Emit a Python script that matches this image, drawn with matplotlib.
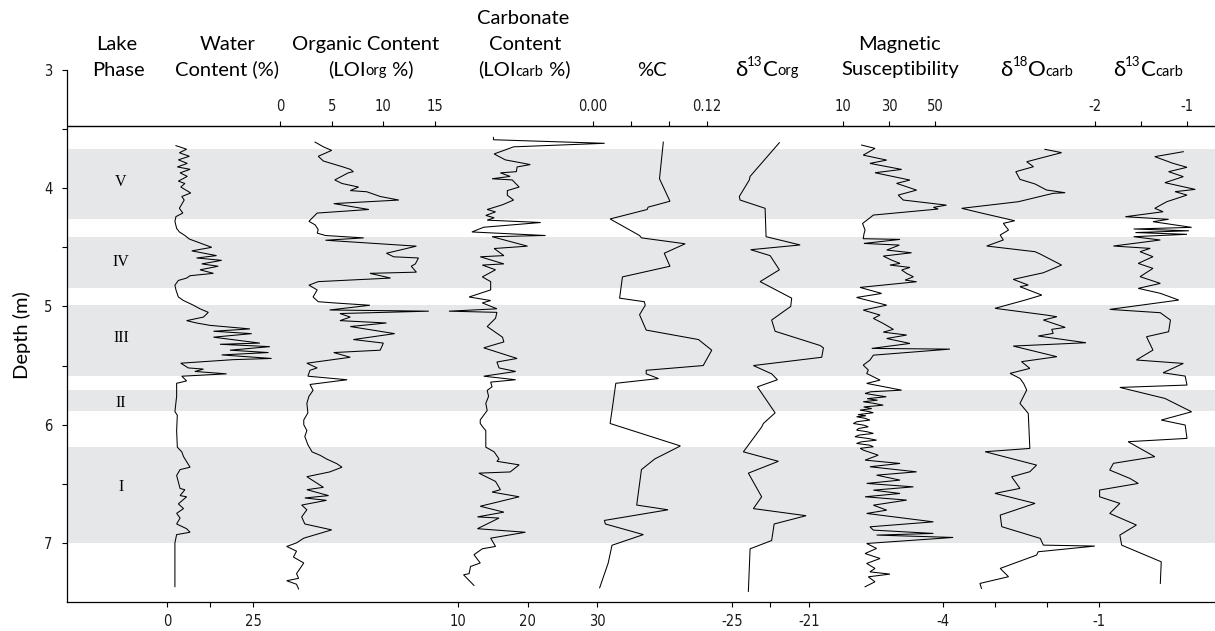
import matplotlib
matplotlib.use("Agg")
import matplotlib.pyplot as plt

# ---------------- data (depth m, value) ----------------
PHASES = ["V", "IV", "III", "II", "I"]
PHASE_TOP = [3.67, 4.415, 4.99, 5.71, 6.185]
PHASE_BOT = [4.26, 4.845, 5.585, 5.885, 7.005]
PHASE_LABEL_DEPTH = [3.95, 4.62, 5.27, 5.82, 6.53]

WATER = [(3.64,2.6),(3.67,5.7),(3.70,3.6),(3.73,6.5),(3.76,3.3),(3.79,5.9),(3.82,3.0),(3.84,6.7),
         (3.87,3.8),(3.90,5.9),(3.94,3.3),(3.96,5.2),(3.99,4.0),(4.04,6.9),(4.07,4.3),(4.10,5.0),
         (4.17,3.6),(4.21,4.6),(4.24,2.6),(4.28,2.3),(4.34,2.8),(4.37,3.6),(4.40,5.2),(4.43,6.5),
         (4.50,13.0),(4.53,7.2),(4.57,14.4),(4.59,8.6),(4.61,15.9),(4.64,10.1),(4.66,14.9),(4.69,9.6),
         (4.72,13.5),(4.74,6.7),(4.76,5.7),(4.78,3.3),(4.82,2.3),(4.86,2.6),(4.92,3.3),(4.95,4.8),
         (4.99,7.7),(5.02,9.6),(5.05,12.0),(5.09,10.6),(5.12,5.7),(5.14,8.6),(5.16,12.5),(5.19,24.1),
         (5.21,13.5),(5.23,24.6),(5.26,13.5),(5.31,27.0),(5.32,15.4),(5.34,29.9),(5.37,18.3),(5.39,29.5),
         (5.41,15.9),(5.44,30.4),(5.45,19.3),(5.48,4.0),(5.52,6.2),(5.53,10.6),(5.55,8.1),(5.57,17.3),
         (5.59,4.3),(5.63,5.7),(5.65,2.8),(5.76,2.8),(5.89,2.3),(5.92,3.0),(6.05,2.8),(6.19,3.0),
         (6.23,4.3),(6.27,4.8),(6.36,6.7),(6.38,3.8),(6.43,2.8),(6.54,3.8),(6.55,5.2),(6.60,3.8),
         (6.61,5.7),(6.67,3.3),(6.71,4.8),(6.75,2.8),(6.79,3.8),(6.84,2.8),(6.88,5.7),(6.91,6.7),
         (6.93,2.8),(7.00,2.3),(7.17,2.3),(7.37,2.3)]

ORGANIC = [(3.61,3.4),(3.65,4.2),(3.68,5.0),(3.73,3.7),(3.77,4.2),(3.82,6.1),(3.84,6.8),(3.86,7.1),
           (3.87,6.6),(3.93,5.3),(3.96,6.0),(3.99,7.6),(4.02,6.8),(4.03,8.4),(4.07,9.7),(4.10,11.5),
           (4.13,5.2),(4.18,8.6),(4.21,3.6),(4.28,2.8),(4.31,3.4),(4.35,3.7),(4.38,3.6),(4.40,4.4),
           (4.42,8.1),(4.44,4.4),(4.49,13.2),(4.55,10.3),(4.58,11.0),(4.59,13.4),(4.64,13.1),(4.66,12.7),
           (4.71,13.2),(4.72,8.7),(4.76,10.7),(4.79,3.7),(4.82,2.8),(4.86,3.6),(4.92,3.2),(4.96,3.7),
           (4.97,5.2),(4.99,8.7),(5.03,4.8),(5.04,14.4),(5.06,5.8),(5.09,6.8),(5.12,5.8),(5.14,10.3),
           (5.17,6.8),(5.23,11.1),(5.28,7.1),(5.31,10.0),(5.37,9.7),(5.39,5.2),(5.43,6.8),(5.48,2.6),
           (5.52,3.6),(5.54,2.9),(5.59,2.7),(5.62,6.5),(5.66,2.9),(5.71,3.2),(5.76,2.8),(5.82,2.6),
           (5.90,2.7),(5.96,2.3),(6.00,2.3),(6.05,2.6),(6.10,2.4),(6.17,2.7),(6.23,3.1),(6.26,3.9),
           (6.29,4.5),(6.33,5.5),(6.36,6.0),(6.40,4.8),(6.44,2.6),(6.53,4.2),(6.55,2.6),(6.60,4.7),
           (6.62,2.4),(6.64,4.5),(6.68,2.1),(6.72,2.6),(6.78,2.1),(6.84,2.4),(6.89,5.0),(6.96,2.3),
           (7.00,1.6),(7.03,0.65),(7.07,1.6),(7.12,1.3),(7.17,2.3),(7.26,1.6),(7.30,1.8),(7.32,0.65),
           (7.35,1.6),(7.39,1.8)]

CARBONATE = [(3.57,15.1),(3.59,15.1),(3.62,31.1),(3.65,18.0),(3.71,15.2),(3.76,16.8),(3.80,20.4),
             (3.82,18.5),(3.86,18.4),(3.87,16.1),(3.90,17.5),(3.92,14.9),(3.93,17.8),(3.99,18.8),
             (4.02,17.1),(4.06,17.1),(4.10,18.0),(4.14,16.4),(4.18,14.2),(4.20,15.4),(4.23,14.0),
             (4.25,15.2),(4.27,14.2),(4.29,21.9),(4.33,13.7),(4.37,12.0),(4.40,22.6),(4.41,14.9),
             (4.49,20.0),(4.51,15.2),(4.57,16.6),(4.58,13.2),(4.64,16.6),(4.65,13.5),(4.69,15.4),
             (4.75,13.5),(4.79,14.7),(4.86,14.7),(4.92,11.6),(4.95,14.7),(4.97,13.5),(5.02,15.6),
             (5.04,8.7),(5.05,15.6),(5.10,15.4),(5.17,14.2),(5.26,16.4),(5.30,16.6),(5.35,13.7),
             (5.44,18.5),(5.47,15.6),(5.52,15.9),(5.55,18.3),(5.59,13.7),(5.62,18.3),(5.64,14.7),
             (5.68,14.9),(5.71,14.2),(5.76,14.4),(5.82,14.0),(5.88,14.2),(5.96,13.2),(5.99,13.2),
             (6.03,13.7),(6.05,14.0),(6.19,14.0),(6.23,15.2),(6.29,15.9),(6.31,15.6),(6.34,18.8),
             (6.40,17.5),(6.41,13.0),(6.48,15.4),(6.55,16.1),(6.57,14.9),(6.61,18.8),(6.69,13.2),
             (6.74,16.6),(6.78,12.8),(6.79,15.9),(6.88,12.8),(6.91,19.7),(6.96,14.7),(7.03,15.4),
             (7.05,13.5),(7.10,12.3),(7.17,13.2),(7.20,11.8),(7.26,11.6),(7.27,10.8),(7.36,12.3)]

PCT_C = [(3.61,0.074),(3.92,0.070),(4.11,0.081),(4.16,0.058),(4.18,0.057),(4.26,0.018),(4.40,0.049),
         (4.42,0.051),(4.47,0.097),(4.55,0.075),(4.66,0.081),(4.75,0.031),(4.93,0.028),(4.96,0.054),
         (4.99,0.055),(5.07,0.049),(5.20,0.056),(5.28,0.111),(5.37,0.125),(5.50,0.116),(5.54,0.056),
         (5.57,0.056),(5.61,0.069),(5.65,0.024),(5.88,0.020),(5.99,0.018),(6.18,0.092),(6.29,0.065),
         (6.38,0.051),(6.68,0.046),(6.72,0.079),(6.81,0.012),(6.84,0.013),(6.93,0.053),(7.02,0.020),
         (7.17,0.016),(7.38,0.007)]

D13C_ORG = [(3.615,-22.54),(3.90,-24.06),(3.93,-24.10),(4.07,-24.62),(4.10,-24.58),(4.17,-23.28),
            (4.41,-23.23),(4.48,-21.46),(4.52,-24.03),(4.57,-23.02),(4.59,-22.94),(4.69,-22.54),
            (4.79,-23.54),(4.93,-21.90),(5.00,-21.95),(5.115,-22.94),(5.21,-22.76),(5.33,-20.43),
            (5.35,-20.25),(5.43,-20.34),(5.50,-23.89),(5.57,-22.94),(5.62,-22.64),(5.68,-23.68),
            (5.90,-22.76),(5.99,-23.37),(6.02,-23.46),(6.23,-24.41),(6.31,-22.59),(6.41,-24.15),
            (6.61,-23.46),(6.71,-23.89),(6.77,-21.15),(6.84,-22.81),(6.98,-22.94),(7.05,-24.06),
            (7.41,-24.15)]

MAG_SUS = [(3.635,18.1),(3.663,23.9),(3.72,18.8),(3.762,29.0),(3.79,21.7),(3.841,35.5),(3.869,23.9),
           (3.931,39.1),(3.959,33.3),(4.016,42.0),(4.058,34.0),(4.10,36.2),(4.143,55.0),(4.162,49.3),
           (4.176,51.4),(4.227,23.2),(4.255,21.4),(4.298,18.5),(4.354,19.6),(4.388,19.1),(4.427,18.8),
           (4.433,34.8),(4.467,19.1),(4.481,34.5),(4.523,29.0),(4.546,39.8),(4.574,27.5),(4.608,31.1),
           (4.636,34.8),(4.65,30.4),(4.67,39.1),(4.692,35.5),(4.721,37.7),(4.749,40.6),(4.777,37.0),
           (4.791,42.0),(4.839,17.4),(4.89,26.8),(4.924,15.9),(4.946,20.3),(4.989,29.0),(5.031,18.8),
           (5.073,26.1),(5.101,23.2),(5.144,27.5),(5.194,31.9),(5.217,27.5),(5.242,37.7),(5.271,29.0),
           (5.313,39.1),(5.355,22.5),(5.361,56.5),(5.412,23.2),(5.454,21.7),(5.496,18.8),(5.538,21.0),
           (5.567,20.3),(5.623,26.1),(5.651,20.3),(5.708,35.5),(5.722,22.0),(5.736,19.6),(5.75,24.0),
           (5.764,28.8),(5.78,20.5),(5.793,25.0),(5.806,18.8),(5.82,23.5),(5.835,27.5),(5.85,19.0),
           (5.864,22.5),(5.877,17.4),(5.888,21.0),(5.899,23.2),(5.915,16.5),(5.925,20.0),(5.933,15.9),
           (5.946,19.5),(5.961,21.7),(5.975,16.0),(5.99,14.5),(6.004,19.0),(6.018,21.0),(6.032,16.8),
           (6.046,15.9),(6.06,20.5),(6.074,23.2),(6.088,17.0),(6.102,15.2),(6.117,21.0),(6.131,24.6),
           (6.145,18.0),(6.159,15.9),(6.173,21.5),(6.187,23.2),(6.2,17.5),(6.215,18.8),
           (6.258,25.3),(6.30,19.6),(6.328,34.8),(6.356,21.7),(6.399,42.0),(6.427,24.6),(6.469,34.8),
           (6.497,20.3),(6.526,40.6),(6.554,23.2),(6.582,34.8),(6.61,19.6),(6.638,37.7),(6.681,23.2),
           (6.723,29.0),(6.751,20.3),(6.822,49.3),(6.864,21.7),(6.892,23.2),(6.92,49.3),(6.934,24.6),
           (6.954,57.9),(7.005,20.3),(7.047,24.6),(7.09,19.6),(7.132,26.1),(7.174,20.3),(7.216,23.9),
           (7.245,21.7),(7.264,30.4),(7.287,21.0),(7.329,23.9),(7.371,19.6)]

D18O_CARB = [(3.671,-2.04),(3.699,-1.72),(3.776,-2.39),(3.818,-2.26),(3.86,-2.60),(3.925,-2.52),
             (3.964,-2.23),(4.015,-2.01),(4.038,-1.65),(4.043,-1.88),(4.114,-2.55),(4.17,-3.64),
             (4.207,-3.29),(4.275,-2.62),(4.297,-2.84),(4.354,-2.74),(4.396,-2.90),(4.438,-2.84),
             (4.489,-3.16),(4.537,-2.23),(4.557,-2.13),(4.65,-1.72),(4.715,-2.07),(4.771,-2.65),
             (4.819,-2.36),(4.833,-2.52),(4.904,-2.10),(4.946,-2.42),(5.016,-3.00),(5.073,-2.01),
             (5.087,-1.81),(5.115,-2.07),(5.177,-1.65),(5.194,-1.91),(5.228,-1.88),(5.25,-2.17),
             (5.307,-1.25),(5.335,-2.65),(5.425,-1.81),(5.467,-2.49),(5.524,-2.33),(5.566,-2.71),
             (5.609,-2.52),(5.651,-2.45),(5.707,-2.39),(5.82,-2.52),(5.905,-2.36),(6.201,-2.33),
             (6.229,-3.19),(6.342,-2.20),(6.398,-2.33),(6.441,-2.68),(6.539,-2.52),(6.581,-3.00),
             (6.666,-2.23),(6.765,-2.90),(6.863,-2.87),(6.962,-2.13),(7.019,-2.07),(7.027,-1.08),
             (7.075,-2.17),(7.103,-2.20),(7.216,-2.90),(7.286,-2.74),(7.343,-3.29),(7.385,-3.26)]

D13C_CARB = [(3.691,-1.04),(3.733,-1.35),(3.790,-1.15),(3.823,-1.00),(3.86,-1.20),(3.902,-1.04),
             (3.953,-1.24),(4.010,-0.91),(4.029,-1.13),(4.058,-1.00),(4.114,-1.22),(4.17,-1.35),
             (4.199,-1.26),(4.241,-1.67),(4.263,-1.20),(4.283,-1.37),(4.331,-0.95),(4.345,-1.58),
             (4.36,-0.98),(4.375,-1.56),(4.39,-1.00),(4.41,-1.58),(4.438,-1.29),(4.489,-1.80),
             (4.509,-1.40),(4.537,-1.51),(4.579,-1.37),(4.636,-1.53),(4.678,-1.37),(4.748,-1.51),
             (4.805,-1.29),(4.847,-1.53),(4.889,-1.29),(4.946,-1.09),(5.025,-1.84),(5.053,-1.29),
             (5.115,-1.18),(5.214,-1.20),(5.256,-1.44),(5.369,-1.37),(5.453,-1.55),(5.482,-1.04),
             (5.561,-1.26),(5.589,-1.02),(5.665,-1.00),(5.685,-1.73),(5.778,-1.24),(5.891,-0.95),
             (5.961,-1.28),(6.003,-1.02),(6.116,-1.00),(6.144,-1.64),(6.271,-1.35),(6.327,-1.80),
             (6.384,-1.84),(6.455,-1.62),(6.497,-1.53),(6.553,-1.95),(6.610,-1.95),(6.666,-1.73),
             (6.751,-1.84),(6.849,-1.55),(6.934,-1.73),(7.019,-1.71),(7.160,-1.28),(7.343,-1.29)]

DEPTH_TICKS = [3, 4, 5, 6, 7]
DEPTH_MINOR = [3.5, 4.5, 5.5, 6.5]

# tick values / labels of each panel
WATER_TICKS, WATER_LABELS = [0, 12.5, 25], ["0", "", "25"]
ORG_TICKS, ORG_LABELS = [0, 5, 10, 15], ["0", "5", "10", "15"]
CARB_TICKS, CARB_LABELS = [10, 20, 30], ["10", "20", "30"]
PCTC_TICKS, PCTC_LABELS = [0.0, 0.04, 0.08, 0.12], ["0.00", "", "", "0.12"]
D13CORG_TICKS, D13CORG_LABELS = [-25, -23, -21], ["-25", "", "-21"]
MAG_TICKS, MAG_LABELS = [10, 30, 50], ["10", "30", "50"]
D18O_TICKS, D18O_LABELS = [-4, -3, -2, -1], ["-4", "", "", "-1"]
D13CC_TICKS, D13CC_LABELS = [-2, -1.5, -1], ["-2", "", "-1"]

# ---------------- layout ----------------
W, H = 1215, 631
AX_L, AX_R, AX_T, AX_B = 67, 1215, 70, 602
D_TOP, D_BOT = 3.0, 7.5
TOP_LINE = 3.475
BAND = "#e6e7e8"
LW = 0.75

HEAD_FONT = ["Lato", "DejaVu Sans"]
TICK_FONT = ["Liberation Sans Narrow", "DejaVu Sans"]
SERIF = ["Liberation Serif", "DejaVu Serif"]

fig = plt.figure(figsize=(W / 100, H / 100), dpi=100)


def fx(px):
    return px / W


def fy(py):
    return 1 - py / H


def style_ticklabels(labels):
    for t in labels:
        t.set_family(TICK_FONT)
        t.set_fontstretch("condensed")
        t.set_fontsize(10.5)
        t.set_color("#1a1a1a")


ax = fig.add_axes([fx(AX_L), fy(AX_B), (AX_R - AX_L) / W, (AX_B - AX_T) / H])
ax.set_xlim(0, 1)
ax.set_ylim(D_BOT, D_TOP)
for s in ("top", "right"):
    ax.spines[s].set_visible(False)
for s in ("left", "bottom"):
    ax.spines[s].set_linewidth(0.9)
ax.set_xticks([])
ax.set_yticks(DEPTH_TICKS)
ax.set_yticks(DEPTH_MINOR, minor=True)
ax.tick_params(axis="y", which="both", direction="out", length=3.5, width=0.8, pad=7)
style_ticklabels(ax.get_yticklabels())
ax.axhline(TOP_LINE, color="black", lw=1.0)
for top, bot, lab, ld in zip(PHASE_TOP, PHASE_BOT, PHASES, PHASE_LABEL_DEPTH):
    ax.axhspan(top, bot, color=BAND, lw=0, zorder=0)
    ax.text((121 - AX_L) / (AX_R - AX_L), ld, lab, ha="center", va="center",
            fontsize=11.5, family=SERIF)
fig.text(fx(22), fy(335), "Depth (m)", rotation=90, ha="center", va="center",
         fontsize=14.5, family=HEAD_FONT)

ptop = AX_T + (TOP_LINE - D_TOP) / (D_BOT - D_TOP) * (AX_B - AX_T)
rect = [fx(AX_L), fy(AX_B), (AX_R - AX_L) / W, (AX_B - ptop) / H]

# (series, anchor v0 at px0, v1 at px1, tick side, ticks, labels)
PANELS = [
    (WATER, (0, 167, 25, 253), "bottom", WATER_TICKS, WATER_LABELS),
    (ORGANIC, (0, 280, 15, 435), "top", ORG_TICKS, ORG_LABELS),
    (CARBONATE, (10, 458, 30, 597), "bottom", CARB_TICKS, CARB_LABELS),
    (PCT_C, (0.0, 593, 0.12, 707), "top", PCTC_TICKS, PCTC_LABELS),
    (D13C_ORG, (-25, 732, -21, 809), "bottom", D13CORG_TICKS, D13CORG_LABELS),
    (MAG_SUS, (10, 843, 50, 935), "top", MAG_TICKS, MAG_LABELS),
    (D18O_CARB, (-4, 943, -1, 1099), "bottom", D18O_TICKS, D18O_LABELS),
    (D13C_CARB, (-2, 1095, -1, 1187), "top", D13CC_TICKS, D13CC_LABELS),
]

for i, (series, (v0, p0, v1, p1), side, ticks, labels) in enumerate(PANELS):
    pax = fig.add_axes(rect, label=f"panel{i}")
    pax.patch.set_visible(False)
    for s in pax.spines.values():
        s.set_visible(False)
    k = (p1 - p0) / (v1 - v0)
    pax.set_xlim(v0 - (p0 - AX_L) / k, v0 + (AX_R - p0) / k)
    pax.set_ylim(D_BOT, TOP_LINE)
    pax.set_yticks([])
    depths = [d for d, _ in series]
    vals = [v for _, v in series]
    pax.plot(vals, depths, color="black", lw=LW, solid_joinstyle="miter")
    if side == "top":
        pax.xaxis.tick_top()
    else:
        pax.xaxis.tick_bottom()
    pax.set_xticks(ticks, labels)
    pax.tick_params(axis="x", direction="out", length=3.5, width=0.8, pad=5.5)
    style_ticklabels(pax.get_xticklabels())

# ---------------- headers ----------------
B, S, D, SS = 14.5, 10.5, 16, 9.5
HEADERS = [
    (117, 50, [("Lake", B, 0)]),
    (118, 75.5, [("Phase", B, 0)]),
    (228, 50, [("Water", B, 0)]),
    (227, 75.5, [("Content (%)", B, 0)]),
    (366, 50, [("Organic Content", B, 0)]),
    (371, 75.5, [("(LOI", B, 0), ("org", S, 0), (" %)", B, 0)]),
    (523, 24.5, [("Carbonate", B, 0)]),
    (525, 50, [("Content", B, 0)]),
    (524, 75.5, [("(LOI", B, 0), ("carb", S, 0), (" %)", B, 0)]),
    (652, 75.5, [("%C", B, 0)]),
    (767, 75.5, [("δ", D, 0), ("13", SS, 9), ("C", D, 0), ("org", S, 0)]),
    (899, 50, [("Magnetic", B, 0)]),
    (900, 75.5, [("Susceptibility", B, 0)]),
    (1037, 75.5, [("δ", D, 0), ("18", SS, 9), ("O", D, 0), ("carb", S, 0)]),
    (1148, 75.5, [("δ", D, 0), ("13", SS, 9), ("C", D, 0), ("carb", S, 0)]),
]

renderer = fig.canvas.get_renderer()
for xc, yb, parts in HEADERS:
    arts = []
    for s, size, rise in parts:
        t = fig.text(0, 0, s, fontsize=size, family=HEAD_FONT, ha="left", va="baseline")
        arts.append((t, rise))
    widths = []
    for t, _ in arts:
        widths.append(t.get_window_extent(renderer).width)
    x = xc - sum(widths) / 2
    for (t, rise), w in zip(arts, widths):
        t.set_position((fx(x), fy(yb - rise)))
        x += w

fig.savefig("out.png", dpi=100)
